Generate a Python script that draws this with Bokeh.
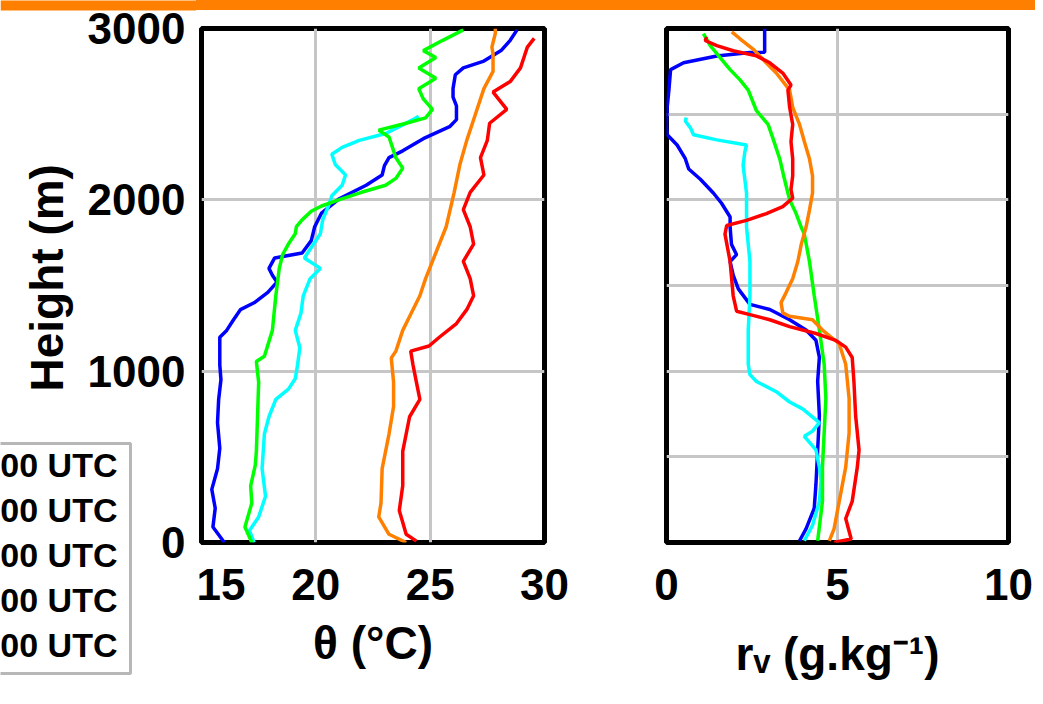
from math import pi
from bokeh.plotting import figure
from bokeh.layouts import row, column
from bokeh.models import Range1d, FixedTicker, Label, BoxAnnotation, Div
from bokeh.core.properties import value
from bokeh.embed import file_html
from bokeh.resources import INLINE

# ---------------- data ----------------
theta_ticks = [15, 20, 25, 30]
rv_ticks = [0, 5, 10]
height_ticks = [0, 1000, 2000, 3000]
legend_labels = ["00 UTC", "00 UTC", "00 UTC", "00 UTC", "00 UTC"]

# potential temperature profiles (height m, theta degC)
th_blue_h = [0, 90, 200, 310, 430, 550, 700, 835, 950, 1036, 1198, 1238, 1300, 1359, 1399, 1460, 1520, 1560,
             1600, 1661, 1690, 1762, 1843, 1923, 2004, 2085, 2145, 2200, 2246, 2286, 2357, 2427, 2468, 2548,
             2600, 2649, 2730, 2770, 2810, 2871, 2931, 2992]
th_blue_v = [16.0, 15.5, 15.6, 15.45, 15.7, 15.8, 15.7, 15.75, 15.85, 15.8, 15.8, 16.1, 16.4, 16.7, 17.3, 17.9,
             18.3, 18.1, 17.95, 18.2, 19.4, 19.8, 19.95, 20.25, 21.0, 22.2, 22.9, 23.0, 23.2, 23.8, 24.7, 25.85,
             26.15, 26.15, 26.0, 26.0, 26.1, 26.45, 27.35, 28.1, 28.5, 28.8]

th_green_h = [0, 90, 230, 331, 450, 532, 734, 935, 1056, 1087, 1238, 1440, 1600, 1681, 1742, 1802, 1843, 1883,
              1933, 1964, 2004, 2044, 2085, 2125, 2185, 2246, 2306, 2367, 2407, 2447, 2478, 2528, 2589, 2649,
              2710, 2770, 2831, 2871, 2931, 2992]
th_green_v = [17.2, 16.9, 17.2, 17.15, 17.35, 17.4, 17.45, 17.5, 17.4, 17.75, 18.1, 18.25, 18.4, 18.55, 18.8,
              19.1, 19.15, 19.4, 19.8, 20.25, 21.1, 22.0, 23.05, 23.5, 23.8, 23.5, 23.35, 23.2, 22.75, 23.95,
              24.8, 25.1, 24.7, 24.5, 25.25, 24.5, 25.25, 24.7, 25.55, 26.45]

th_cyan_h = [0, 70, 149, 270, 431, 633, 734, 835, 895, 956, 1036, 1137, 1238, 1339, 1440, 1540, 1600, 1661,
             1722, 1802, 1883, 1964, 2024, 2085, 2145, 2206, 2266, 2306, 2347, 2387, 2427, 2468, 2488]
th_cyan_v = [17.3, 17.1, 17.5, 17.8, 17.65, 17.75, 17.95, 18.25, 18.8, 19.1, 19.2, 19.3, 19.1, 19.35, 19.45,
             19.75, 20.2, 19.5, 19.8, 20.2, 20.3, 20.55, 20.7, 21.15, 21.3, 20.85, 20.7, 21.15, 21.9, 23.05,
             23.65, 24.25, 24.5]

th_orange_h = [0, 48, 149, 230, 431, 633, 794, 935, 1077, 1117, 1238, 1319, 1440, 1540, 1641, 1843, 2044, 2206,
               2347, 2488, 2649, 2750, 2851, 2891, 2972, 3000]
th_orange_v = [23.95, 23.2, 22.75, 22.85, 22.9, 23.2, 23.4, 23.4, 23.3, 23.5, 23.8, 24.1, 24.55, 24.8, 25.1,
               25.7, 26.05, 26.3, 26.6, 26.95, 27.35, 27.75, 27.75, 27.7, 27.85, 27.85]

th_red_h = [8, 48, 187, 331, 532, 734, 835, 935, 1036, 1117, 1147, 1198, 1278, 1359, 1440, 1540, 1641, 1742,
            1843, 1943, 2044, 2145, 2246, 2347, 2447, 2528, 2629, 2690, 2770, 2831, 2891, 2942]
th_red_v = [24.4, 23.95, 23.65, 23.8, 23.8, 24.1, 24.55, 24.4, 24.25, 24.15, 24.95, 25.4, 26.15, 26.6, 26.9,
            26.75, 26.45, 26.9, 26.75, 26.45, 26.75, 27.35, 27.2, 27.5, 27.6, 28.35, 27.75, 28.5, 28.95, 29.1,
            29.25, 29.55]

# water vapour mixing ratio profiles (height m, r_v g/kg)
rv_blue_h = [10, 80, 200, 340, 540, 740, 940, 1080, 1180, 1240, 1300, 1360, 1390, 1480, 1560, 1640, 1680, 1740,
             1840, 1900, 1980, 2040, 2120, 2180, 2240, 2320, 2380, 2440, 2540, 2640, 2760, 2800, 2840, 2860,
             2862, 2920, 3000]
rv_blue_v = [3.89, 4.08, 4.32, 4.37, 4.42, 4.47, 4.42, 4.47, 4.37, 4.08, 3.6, 3.02, 2.44, 2.10, 1.95, 1.86, 2.05,
             1.9, 1.86, 1.86, 1.61, 1.37, 0.99, 0.65, 0.55, 0.31, 0.02, 0.0, 0.02, 0.07, 0.12, 0.5, 1.47, 2.44,
             2.87, 2.87, 2.87]

rv_cyan_h = [10, 100, 240, 360, 440, 540, 620, 650, 700, 780, 820, 880, 940, 980, 1040, 1240, 1440, 1640, 1840,
             2040, 2200, 2280, 2320, 2350, 2380, 2420, 2460, 2480]
rv_cyan_v = [4.03, 4.27, 4.47, 4.52, 4.47, 4.37, 4.03, 4.27, 4.47, 3.98, 3.6, 3.21, 2.63, 2.44, 2.39, 2.39, 2.44,
             2.44, 2.34, 2.34, 2.24, 2.29, 2.34, 1.47, 0.79, 0.7, 0.55, 0.58]

rv_green_h = [10, 240, 440, 640, 840, 1040, 1240, 1440, 1640, 1800, 1840, 1920, 2000, 2120, 2240, 2360, 2440,
              2520, 2640, 2700, 2760, 2820, 2900, 2970]
rv_green_v = [4.42, 4.56, 4.56, 4.61, 4.66, 4.61, 4.47, 4.32, 4.18, 4.03, 3.94, 3.79, 3.6, 3.45, 3.31, 3.11,
              2.97, 2.63, 2.39, 2.15, 1.86, 1.61, 1.28, 1.08]

rv_orange_h = [10, 80, 240, 440, 640, 840, 1040, 1160, 1240, 1300, 1320, 1340, 1400, 1460, 1540, 1640, 1740,
               1840, 1940, 2040, 2140, 2240, 2340, 2440, 2540, 2640, 2740, 2820, 2880, 2940, 2980]
rv_orange_v = [4.76, 4.9, 5.05, 5.24, 5.34, 5.34, 5.24, 5.05, 4.56, 4.27, 3.6, 3.4, 3.35, 3.5, 3.69, 3.84, 3.94,
               4.08, 4.18, 4.27, 4.27, 4.18, 4.03, 3.89, 3.69, 3.6, 3.21, 2.82, 2.53, 2.15, 1.91]

rv_red_h = [0, 20, 140, 240, 440, 540, 740, 940, 1080, 1140, 1180, 1220, 1260, 1300, 1330, 1350, 1440, 1640,
            1800, 1850, 1880, 1920, 1960, 2010, 2060, 2140, 2240, 2340, 2440, 2540, 2640, 2670, 2740, 2800,
            2840, 2870, 2900, 2930, 2950]
rv_red_v = [4.9, 5.4, 5.24, 5.43, 5.58, 5.63, 5.53, 5.48, 5.43, 5.24, 4.95, 4.37, 3.6, 3.02, 2.44, 2.05, 1.95,
            1.86, 1.71, 1.76, 2.34, 2.92, 3.4, 3.69, 3.64, 3.69, 3.69, 3.64, 3.69, 3.6, 3.55, 3.64, 3.4, 3.02,
            2.63, 1.95, 1.47, 1.13, 1.18]

COL = {"blue": "#0000FF", "green": "#00FF00", "cyan": "#00FFFF", "orange": "#FF8000", "red": "#FF0000"}
FONT = "Liberation Sans"
TICK_SIZE = "44px"
LAB_SIZE = "46px"
LW = 3.5
ORANGE_BAR = "#FF8000"

# ---------------- layout constants (pixels) ----------------
BAR_H = 10          # orange strip on top
TOTAL_H = 688
FRAME_TOP = 28      # frame top measured from the top of the page content
FRAME_H = 514
FRAME_BOTTOM_GAP = TOTAL_H - FRAME_TOP - FRAME_H
LEFT_W = 196        # strip holding the height labels and the legend
P1_W, P2_W = 393, 446
Y0, Y1 = 0, 3000


def style(p, xticks, xgrid, ygrid):
    p.frame_align = False
    p.background_fill_color = "white"
    p.border_fill_color = "white"
    p.outline_line_color = "black"
    p.outline_line_width = 5
    p.xaxis.ticker = FixedTicker(ticks=xticks)
    p.xgrid.ticker = FixedTicker(ticks=xgrid)
    p.ygrid.ticker = FixedTicker(ticks=ygrid)
    for g in (p.xgrid, p.ygrid):
        g.grid_line_color = "#c6c6c6"
        g.grid_line_width = 3
    p.yaxis.visible = False
    ax = p.xaxis[0]
    ax.axis_line_color = None
    ax.major_tick_line_color = None
    ax.minor_tick_line_color = None
    ax.major_label_text_font = FONT
    ax.major_label_text_font_style = "bold"
    ax.major_label_text_font_size = TICK_SIZE
    ax.major_label_text_color = "black"
    ax.major_label_standoff = 20
    ax.axis_label_text_font = FONT
    ax.axis_label_text_font_style = "bold"
    ax.axis_label_text_font_size = LAB_SIZE
    ax.axis_label_text_color = "black"


# ---------------- left strip: height tick labels, axis title, legend ----------------
span = (Y1 - Y0) / FRAME_H
y_lo = Y0 - FRAME_BOTTOM_GAP * span
y_hi = Y1 + FRAME_TOP * span
pa = figure(width=LEFT_W, height=TOTAL_H, x_range=Range1d(0, LEFT_W), y_range=Range1d(y_lo, y_hi),
            min_border=0, min_border_left=0, min_border_right=0, min_border_top=0, min_border_bottom=0,
            x_axis_location=None, y_axis_location=None,
            output_backend="svg", toolbar_location=None)
pa.frame_align = False
pa.outline_line_color = None
pa.background_fill_color = "white"
pa.border_fill_color = "white"
for g in pa.grid:
    g.visible = False

# orange strip on top of this column (same height as the strip over the panels)
pa.quad(left=[0], right=[LEFT_W], top=[y_hi + 5 * span], bottom=[y_hi - BAR_H * span],
        fill_color=ORANGE_BAR, fill_alpha=1.0, line_color=None)

pa.text(x=[185] * len(height_ticks), y=height_ticks, text=[str(t) for t in height_ticks],
        text_font=value(FONT), text_font_style="bold", text_font_size=value(TICK_SIZE),
        text_align="right", text_baseline="middle", text_color="black")
pa.text(x=[46], y=[1545], text=["Height (m)"], angle=pi / 2,
        text_font=value(FONT), text_font_style="bold", text_font_size=value(LAB_SIZE),
        text_align="center", text_baseline="middle", text_color="black")

# legend box, cut by the left edge of the picture
pa.add_layout(BoxAnnotation(left=-10, right=130, top=245, bottom=15,
                            left_units="screen", right_units="screen",
                            top_units="screen", bottom_units="screen",
                            fill_color="white", fill_alpha=1.0, line_color="#111111", line_width=3))
for i, t in enumerate(legend_labels):
    pa.add_layout(Label(x=117, y=224 - 45 * i, x_units="screen", y_units="screen", text=t,
                        text_font=FONT, text_font_style="bold", text_font_size="34px",
                        text_align="right", text_baseline="middle", text_color="black"))

ROW_H = TOTAL_H - BAR_H
TOP = FRAME_TOP - BAR_H

# ---------------- left panel: theta ----------------
p1 = figure(width=P1_W, height=ROW_H, x_range=Range1d(15, 30), y_range=Range1d(Y0, Y1),
            min_border_left=5, min_border_right=45, min_border_top=TOP, min_border_bottom=FRAME_BOTTOM_GAP,
            output_backend="svg", toolbar_location=None)
style(p1, theta_ticks, [20, 25], [1000, 2000])
p1.xaxis.axis_label = "θ (°C)"
p1.xaxis.axis_label_standoff = 14

for h, v, c in [(th_blue_h, th_blue_v, "blue"), (th_cyan_h, th_cyan_v, "cyan"),
                (th_green_h, th_green_v, "green"), (th_orange_h, th_orange_v, "orange"),
                (th_red_h, th_red_v, "red")]:
    p1.line(v, h, line_color=COL[c], line_width=LW)

# ---------------- right panel: r_v ----------------
p2 = figure(width=P2_W, height=ROW_H, x_range=Range1d(0, 10), y_range=Range1d(Y0, Y1),
            min_border_left=77, min_border_right=27, min_border_top=TOP, min_border_bottom=FRAME_BOTTOM_GAP,
            output_backend="svg", toolbar_location=None)
style(p2, rv_ticks, [5], [500, 1000, 1500, 2000, 2500])
p2.xaxis.axis_label = "rᵥ (g.kg⁻¹)"
p2.xaxis.axis_label_standoff = 25

for h, v, c in [(rv_blue_h, rv_blue_v, "blue"), (rv_cyan_h, rv_cyan_v, "cyan"),
                (rv_green_h, rv_green_v, "green"), (rv_orange_h, rv_orange_v, "orange"),
                (rv_red_h, rv_red_v, "red")]:
    p2.line(v, h, line_color=COL[c], line_width=LW)

bar = Div(text="", width=P1_W + P2_W, height=BAR_H, margin=(0, 0, 0, 0),
          styles={"background-color": ORANGE_BAR})

layout = row(pa, column(bar, row(p1, p2)))
open("out.html", "w").write(file_html(layout, INLINE))
